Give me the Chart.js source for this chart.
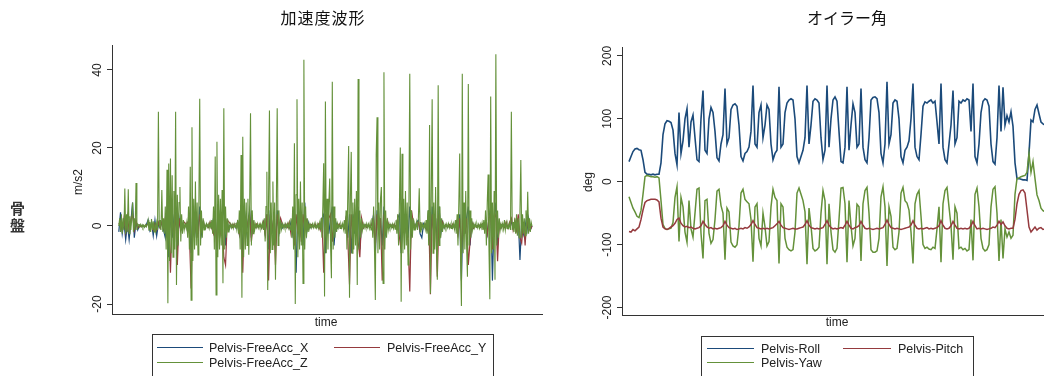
<!DOCTYPE html>
<html>
<head>
<meta charset="utf-8">
<script src="https://cdn.jsdelivr.net/npm/chart.js@4.4.1/dist/chart.umd.min.js"></script>
<style>
  html, body { margin: 0; padding: 0; background: #fff; overflow: hidden; width: 1044px; height: 376px; }
  body { position: relative; font-family: "Liberation Sans", Arial, sans-serif; color: #222; }
  canvas { position: absolute; top: 0; }
  #accCanvas { left: 0; }
  #eulerCanvas { left: 544px; }
  .t { position: absolute; white-space: nowrap; transform: translate(-50%, -50%); }
  .title { font-family: "Noto Sans CJK JP", sans-serif; font-size: 16px; color: #111; }
  .axt { font-size: 12px; }
  .rot { transform: translate(-50%, -50%) rotate(-90deg); }
  .side { position: absolute; left: 10px; top: 199px; width: 16px; font-family: "Noto Sans CJK JP", sans-serif;
          font-weight: bold; font-size: 15px; line-height: 17px; color: #333; }
  .lbox { position: absolute; border: 1px solid #333; height: 60px; }
  .sw { position: absolute; height: 0; border-top: 1.5px solid; }
  .lt { position: absolute; font-size: 12.5px; transform: translateY(-50%); white-space: nowrap; }
</style>
</head>
<body>
<canvas id="accCanvas" width="544" height="376"></canvas>
<canvas id="eulerCanvas" width="520" height="376"></canvas>

<div class="t title" style="left:323px; top:17px; letter-spacing:1px;">加速度波形</div>
<div class="t title" style="left:847px; top:17px;">オイラー角</div>
<div class="t axt" style="left:326px; top:322px;">time</div>
<div class="t axt" style="left:837px; top:322px;">time</div>
<div class="t axt rot" style="left:78px; top:182px;">m/s2</div>
<div class="t axt rot" style="left:588px; top:182px;">deg</div>
<div class="side">骨<br>盤</div>

<div class="lbox" style="left:152px; top:334px; width:340px;"></div>
<div class="sw" style="left:157px; top:347px; width:46px; border-color:#1b4a7a;"></div>
<div class="lt" style="left:209px; top:348px;">Pelvis-FreeAcc_X</div>
<div class="sw" style="left:334px; top:347px; width:46px; border-color:#953a3e;"></div>
<div class="lt" style="left:387px; top:348px;">Pelvis-FreeAcc_Y</div>
<div class="sw" style="left:157px; top:362px; width:46px; border-color:#64913a;"></div>
<div class="lt" style="left:209px; top:363px;">Pelvis-FreeAcc_Z</div>

<div class="lbox" style="left:701px; top:336px; width:271px;"></div>
<div class="sw" style="left:707px; top:348px; width:47px; border-color:#1b4a7a;"></div>
<div class="lt" style="left:761px; top:349px;">Pelvis-Roll</div>
<div class="sw" style="left:843px; top:348px; width:48px; border-color:#953a3e;"></div>
<div class="lt" style="left:898px; top:349px;">Pelvis-Pitch</div>
<div class="sw" style="left:707px; top:362px; width:47px; border-color:#64913a;"></div>
<div class="lt" style="left:761px; top:363px;">Pelvis-Yaw</div>

<script>
// 加速度 (m/s2). X and Y every 2nd time step, Z every time step
const accX = [
  -1.5, 3.5, -2, 1, -3.5, 0.5, -3.5, 1, 6, -3,
  1, -1, 0.2, -0.2, 0.2, -0.2, 0.3, 1.5, -1, 1,
  -2.5, 1.5, -2.5, 0.5, -0.5, 1, -1, -3, 3, -8,
  4, -3, 2, 5, -6, 2, -1, 0.5, -0.5, 0.3,
  -1, 3, -7, 4, -3, 2, -2, 5, -2, 1,
  -0.5, 0.3, -0.3, 0.3, -0.5, 2, 3, -6, 4, -2,
  2, 5, -5, 1, -1, 0.3, -0.3, 0.3, -0.5, 1,
  -2, 3, -7, 4, -2, 1, 4, -3, 1, -0.5,
  0.3, -0.3, 0.3, -0.5, 1, -2, 3, -6, 4, -2,
  2, -5, 4, -2, 1, -0.5, 0.3, -0.3, 0.3, -0.5,
  1, -2, 3, -12, 5, -3, 2, -5, 6, -2,
  1, -0.5, 0.3, -0.3, 0.3, -0.3, 0.3, -0.5, 2, 3,
  -7, 5, -2, 2, 5, -5, 1, -0.5, 0.3, -0.3,
  0.3, -0.5, 2, -3, 3, -7, 3, -2, 2, 5,
  -6, 1, -0.5, 0.3, -0.3, 0.3, -0.3, 0.5, 3, -7,
  4, -2, 2, -5, 5, -2, 1, -0.5, 0.3, -0.3,
  0.3, -0.5, 2, 3, -7, 3, -2, 2, -3, 5,
  -2, 1, -0.5, 1, 1.5, -2, -3, 0.5, -0.5, -1,
  4, -6, 5, -2, 2, -5, 5, -2, 1, -0.5,
  0.3, -0.3, 0.3, -0.3, 0.3, -0.5, 1, -2, 3, -14,
  5, -2, 2, 5, -5, 1, -0.5, 0.3, -0.3, 0.3,
  -0.3, 0.3, -0.5, 1, -2, 2, 5, -14, 2, 6,
  -5, 1, -0.5, 0.3, -0.3, 0.5, -0.5, 0.3, 1, -0.5,
  1, -1, 2, -8.7, 1, -2, 1, -1.5, 2, -1,
  0
];
const accY = [
  0.5, 1, -1, 2, -1.5, 2.5, -1, 1.5, 3, -1,
  1.5, -0.5, 0.2, -0.2, 0.2, -0.2, 0.2, 0.5, -0.5, 0.5,
  -1, 0.5, -1, 1, -0.5, 1, -0.5, 2, -3, 3,
  -12, 2, -2, 3, -10, 2, -1, 0.5, 1, 0.5,
  1, -2, -16, 3, -2, 2, -3, 3, -1, 1,
  -0.5, 0.5, -0.3, 1, -0.5, -2, 2, -5, 3, -2,
  1, -8, -10, 1.5, 1, 0.5, -0.3, 0.5, -0.3, 1,
  -2, 2, -12, 3, -1, 1, 3, -4, 1, -0.5,
  0.5, -0.3, 0.5, -0.5, 1, -2, 3, -14, 3, -1,
  2, -10, 3, -1, 2, 0.5, -0.3, 0.5, -0.3, 1,
  -2, 2, -5, 3, -2, 2, -4, 3, -1, 1.5,
  0.5, -0.3, 0.3, -0.3, 0.5, -0.3, 0.5, -1, 2, -12,
  3, -2, 2, 3, -4, 1.5, 0.5, -0.3, 0.5, -0.3,
  0.3, -0.5, 2, -3, -15, 3, -2, 2, 3, -4,
  -8, 2, -0.5, 0.3, -0.3, 0.3, -0.3, 0.5, 2, -5,
  3, -2, 2, -14, 3, -1, 1.5, -0.3, 0.3, -0.3,
  0.5, -0.5, 2, -3, -6, 3, -2, 2, -4, -16.8,
  4, 1, -0.5, 0.5, 1, -1, 0.5, -0.3, 0.5, -1,
  3, -17.5, 3, -2, 2, -13, 3, -1, 1, -0.3,
  0.3, -0.3, 0.3, -0.3, 0.5, -0.5, 1, -2, 2, -6,
  3, -2, 2, -10, -4, 1, -0.5, 0.3, -0.3, 0.3,
  -0.3, 0.5, -0.5, 1, -2, 2, 3, -6, 2, 3,
  -9, 1, -0.5, 0.5, -0.3, 1, -0.5, 1, 2, -1,
  1.5, -1, 3, -3, -4.4, 1, -5, 2, -1, -1,
  0
];
const accZ = [
  0, 2, -1.5, 3, -2, 2, -1, 9.6, -2, 3, -1.5, 9.4, -2, 2.5, -1, 2, 6, -1.5, 2, -1, 11, -1, 0.5,
  0.3, -0.3, 0.4, -0.2, 0.3, -0.4, 0.2, -0.3, 0.3, -0.2, 0.3,
  1.5, -1.2, 1, -1.5, 1.8, -1, 1.2, -1.5, 1, -1.2, 0.8,
  -1, 29.3, -0.5, 1.5, -1, 9.2, -1.5, 2,
  -2, 5, -6, 14.4, -19.8, 16, -9, 17.3, -7, 13, -8, 9, -6, 29.3, -15.1, 8, -5, 6, 10, -4, 3, -2, 1.5, -1,
  0.5, -0.4, 1,
  -3, 5, -6, 15.2, -19, 25.3, -9, 7, -6, 11.4, -5, 6, -7.4, 5, 32.6, -5, 4, -3, 2, -1,
  0.4, -0.5, 0.6, -0.3, 0.5, -0.6, 0.8, -0.7, 1.5, -2,
  5, -6, 17.8, -17.7, 21.6, -8, 8, -6, 7, -5, 9.2, -14.7, 30.2, -6, 5, -3, 2, -1.5,
  0.6, -0.4, 0.5, -0.5, 0.4, -0.6, 0.5, -0.4, 0.8, -0.8, 1.5, -2,
  4, -6, 18.2, -18.4, 22.9, -8, 7, -6, 6, -5, 7, -7.4, 5, 28.9, -5, 4, -2, 1.5,
  -0.8, 0.5, -0.4, 0.6, -0.5, 0.4, -0.6, 0.5, -0.5, 0.8, -1, 2,
  -4, 5, 13.9, -16.4, 8, 29.6, -7, 6, -6, 11.4, -5, 6, -13.8, 5, 30.2, -5, 4, -2, 1.5,
  -0.8, 0.5, -0.5, 0.4, -0.6, 0.5, -0.4, 0.6, -0.5, 0.8, -1, 2, -3,
  5, -6, 21.2, -20, 8, 32.5, -8, 7, -6, 11.4, -5, 6, -14.7, 42.6, -6, 5, -3, 2, -1.5,
  0.6, -0.5, 0.4, -0.5, 0.5, -0.4, 0.6, -0.5, 0.4, -0.5, 0.5, -0.6, 0.8, -1, 2, -3,
  5, 16.1, -18.1, 31.9, -7, 7, -6, 6, 12.2, -5, -13.4, 37, -6, 5, -3, 2, -1.5,
  0.6, -0.5, 0.4, -0.6, 0.5, -0.4, 0.6, -0.8, 1.5, -2,
  4, -6, 8, 20.5, -18.4, 7, 19, -7, 6, -6, 7, -5, 9, -15.1, 37.7, -6, 4, -3, 2, -1,
  0.5, -0.5, 0.4, -0.5, 0.6, -0.4, 0.5, -0.6, 0.8, -1, 2, -3,
  5, -6, -19, 18.2, 27.9, -7, 6, -6, 7, 10, -5, -14.7, 39.4, -6, 4, -3, 2, -1,
  0.5, -0.5, 0.4, -0.5, 0.5, -0.6, 0.5, -0.8, 1.5, -2, 3,
  -5, 6, 20.1, -19.4, 18.5, -7, 7, -6, 9, -5, 6, -10, 5, 39, -6, 4, -3, 2, -1,
  0.5, -0.5, 1, -1, 2, 9.7,
  -1.5, 1, -0.5, 0.5, -0.5, 0.6, -0.8, 1.5, -2, 4,
  -5, 25.9, -17.3, 8, 32.5, -7, 6, -6, 10, -5, -13.8, 36.1, -5, 5, -3, 2, -1.5,
  0.6, -0.5, 0.4, -0.5, 0.5, -0.4, 0.6, -0.5, 0.4, -0.6, 0.5, -0.5, 0.6, -0.8, 1.5, -2, 3,
  -5, 6, 18.6, -8, -20.5, 39, -7, 6, -6, 9, -5, -13, 36.4, -5, 4, -3, 2, -1,
  0.5, -0.5, 0.6, -0.4, 0.5, -0.5, 0.4, -0.6, 0.5, -0.5, 0.8, -1, 1.5, -2,
  4, -5, 6, 13.2, -6, -18.8, 33.2, -7, 6, -6, 9, -13.8, 44, -5, 4, -3, 2, -1,
  0.5, -0.5, 0.6, -0.8, 1.5, -1, 0.8, -0.6, 0.5, -0.5, 0.6, -1,
  29.3, -1,
  1, -1.5, 2, -2, 3, -2.5, 2, -3, 4, 16.9, -3, 3, -2, 2, -2.5, 4, -2, 8.8, -2, 2, -1.5, 1, 0
];
const accTicks = [-20, 0, 20, 40];

// オイラー角 (deg), one value per sample
const roll = [
  32, 40, 48, 52, 53, 51, 50, 35, 15, 12,
  12, 11, 12, 11, 12, 12, 30, 75, 92, 97,
  96, 94, 82, 45, 27, 110, 45, 65, 100, 116,
  55, 95, 106, 70, 35, 32, 100, 145, 50, 45,
  100, 118, 110, 80, 38, 33, 60, 75, 148, 60,
  70, 115, 122, 124, 120, 90, 40, 33, 45, 48,
  55, 80, 153, 60, 55, 110, 122, 70, 90, 122,
  115, 60, 35, 45, 50, 151, 55, 60, 110, 125,
  130, 132, 130, 100, 40, 30, 40, 50, 70, 153,
  60, 90, 128, 132, 130, 125, 70, 35, 50, 153,
  55, 100, 130, 135, 128, 80, 32, 30, 55, 151,
  50, 90, 124, 110, 55, 60, 148, 55, 35, 30,
  70, 130, 134, 135, 132, 110, 45, 30, 60, 159,
  60, 75, 125, 130, 128, 100, 40, 30, 50, 55,
  65, 100, 156, 55, 40, 35, 75, 120, 127, 125,
  128, 130, 125, 128, 95, 60, 156, 55, 35, 30,
  60, 90, 145, 60, 70, 128, 125, 130, 128, 132,
  130, 80, 156, 40, 30, 60, 110, 128, 132, 130,
  120, 60, 32, 28, 70, 153, 80, 150, 90, 105,
  95, 111, 88, 30, 5, 5, 4, 3, 3, 2,
  45, 98, 95, 115, 122, 108, 95, 92, 90
];
const pitch = [
  -79, -80, -76, -78, -75, -72, -60, -45, -33, -30,
  -29, -28, -28, -28, -29, -32, -58, -72, -75, -76,
  -74, -72, -70, -66, -60, -58, -66, -70, -72, -71,
  -73, -72, -74, -75, -74, -73, -70, -63, -68, -72,
  -74, -73, -75, -74, -75, -74, -73, -70, -63, -69,
  -73, -74, -75, -74, -76, -75, -74, -75, -73, -74,
  -72, -68, -62, -68, -73, -74, -75, -74, -75, -74,
  -75, -74, -73, -70, -67, -63, -69, -73, -74, -75,
  -76, -75, -74, -75, -75, -74, -73, -72, -68, -62,
  -69, -73, -74, -75, -74, -75, -74, -73, -68, -62,
  -69, -73, -75, -74, -75, -74, -73, -74, -69, -63,
  -69, -74, -75, -73, -72, -70, -63, -69, -74, -75,
  -74, -75, -76, -75, -74, -75, -74, -73, -68, -61,
  -68, -73, -74, -75, -74, -75, -76, -75, -74, -73,
  -72, -69, -62, -69, -74, -75, -74, -75, -74, -73,
  -75, -74, -75, -74, -73, -70, -62, -69, -74, -75,
  -74, -70, -63, -69, -74, -75, -74, -75, -74, -75,
  -74, -70, -63, -70, -75, -74, -75, -74, -75, -76,
  -75, -74, -72, -73, -69, -63, -68, -64, -70, -74,
  -75, -74, -74, -60, -35, -20, -14, -13, -18, -45,
  -72, -80, -76, -72, -77, -74, -73, -76, -75
];
const yaw = [
  -24, -33, -42, -48, -55, -57, -46, -20, 8, 10,
  9, 8, 8, 7, 8, 6, -30, -68, -74, -76,
  -75, -74, -65, -25, -8, -95, -25, -40, -80, -96,
  -30, -75, -88, -50, -12, -10, -82, -122, -30, -28,
  -82, -98, -92, -60, -15, -12, -38, -50, -124, -42,
  -48, -96, -102, -104, -100, -70, -18, -12, -28, -32,
  -35, -60, -127, -40, -35, -90, -102, -50, -72, -102,
  -95, -40, -12, -25, -30, -130, -35, -40, -90, -104,
  -108, -110, -108, -80, -18, -10, -20, -30, -48, -131,
  -42, -70, -106, -110, -108, -104, -50, -14, -30, -131,
  -35, -80, -108, -112, -106, -60, -10, -9, -35, -128,
  -30, -70, -102, -90, -36, -40, -126, -35, -14, -9,
  -50, -108, -112, -112, -110, -90, -24, -8, -40, -134,
  -40, -55, -104, -108, -106, -80, -18, -9, -30, -34,
  -45, -80, -130, -35, -20, -14, -55, -100, -106, -104,
  -107, -108, -104, -106, -75, -40, -128, -35, -14, -9,
  -40, -70, -124, -40, -50, -106, -104, -108, -106, -110,
  -108, -60, -125, -20, -10, -40, -90, -106, -110, -108,
  -100, -40, -12, -8, -50, -126, -60, -122, -75, -88,
  -80, -90, -85, -20, 5, 6, 8, 9, 10, 15,
  45, 15, 32, 5, -21, -30, -42, -46, -48
];
const eulerTicks = [-200, -100, 0, 100, 200];

const BLUE = '#1b4a7a';
const RED = '#953a3e';
const GREEN = '#64913a';
const AXIS = '#333';

// rotated y tick labels, Stata style
const rotatedTicks = {
  id: 'rotatedTicks',
  afterDraw(chart) {
    const y = chart.scales.y;
    const ctx = chart.ctx;
    ctx.save();
    ctx.fillStyle = '#222';
    ctx.font = '12px "Liberation Sans", Arial, sans-serif';
    ctx.textAlign = 'center';
    ctx.textBaseline = 'middle';
    y.ticks.forEach((t) => {
      ctx.save();
      ctx.translate(chart.chartArea.left - 14, y.getPixelForValue(t.value));
      ctx.rotate(-Math.PI / 2);
      ctx.fillText(String(t.value), 0, 0);
      ctx.restore();
    });
    ctx.restore();
  },
};

// step = time units between two samples
function line(values, step, color, order, width) {
  return {
    data: values.map((v, i) => ({ x: i * step, y: v })),
    borderColor: color,
    borderWidth: width,
    pointRadius: 0,
    tension: 0,
    fill: false,
    order: order,
  };
}

function makeOptions(xMin, xMax, yMin, yMax, yTicks, yWidth, xHeight, padding) {
  return {
    responsive: false,
    animation: false,
    events: [],
    layout: { padding: padding },
    plugins: { legend: { display: false }, tooltip: { enabled: false } },
    scales: {
      x: {
        type: 'linear',
        min: xMin,
        max: xMax,
        ticks: { display: false },
        grid: { drawOnChartArea: false, drawTicks: false },
        border: { display: true, color: AXIS, width: 1 },
        afterFit: (s) => { s.height = xHeight; },
      },
      y: {
        min: yMin,
        max: yMax,
        ticks: { display: false },
        grid: { drawOnChartArea: false, drawTicks: true, tickLength: 5, color: AXIS },
        border: { display: true, color: AXIS, width: 1 },
        afterBuildTicks: (s) => { s.ticks = yTicks.map((v) => ({ value: v })); },
        afterFit: (s) => { s.width = yWidth; },
      },
    },
  };
}

new Chart(document.getElementById('accCanvas').getContext('2d'), {
  type: 'line',
  data: {
    datasets: [
      line(accX, 2, BLUE, 2, 1.2),
      line(accY, 2, RED, 1, 1.2),
      line(accZ, 1, GREEN, 0, 1.1),
    ],
  },
  options: makeOptions(-7.9, 491.6, -22.56, 46.4, accTicks, 112, 62, { top: 45, left: 0, right: 2, bottom: 0 }),
  plugins: [rotatedTicks],
});

new Chart(document.getElementById('eulerCanvas').getContext('2d'), {
  type: 'line',
  data: {
    datasets: [
      line(roll, 1, BLUE, 2, 1.6),
      line(pitch, 1, RED, 0, 1.5),
      line(yaw, 1, GREEN, 1, 1.5),
    ],
  },
  options: makeOptions(-3.5, 211, -211.9, 214.2, eulerTicks, 78, 61, { top: 47, left: 0, right: 13, bottom: 0 }),
  plugins: [rotatedTicks],
});
</script>
</body>
</html>
